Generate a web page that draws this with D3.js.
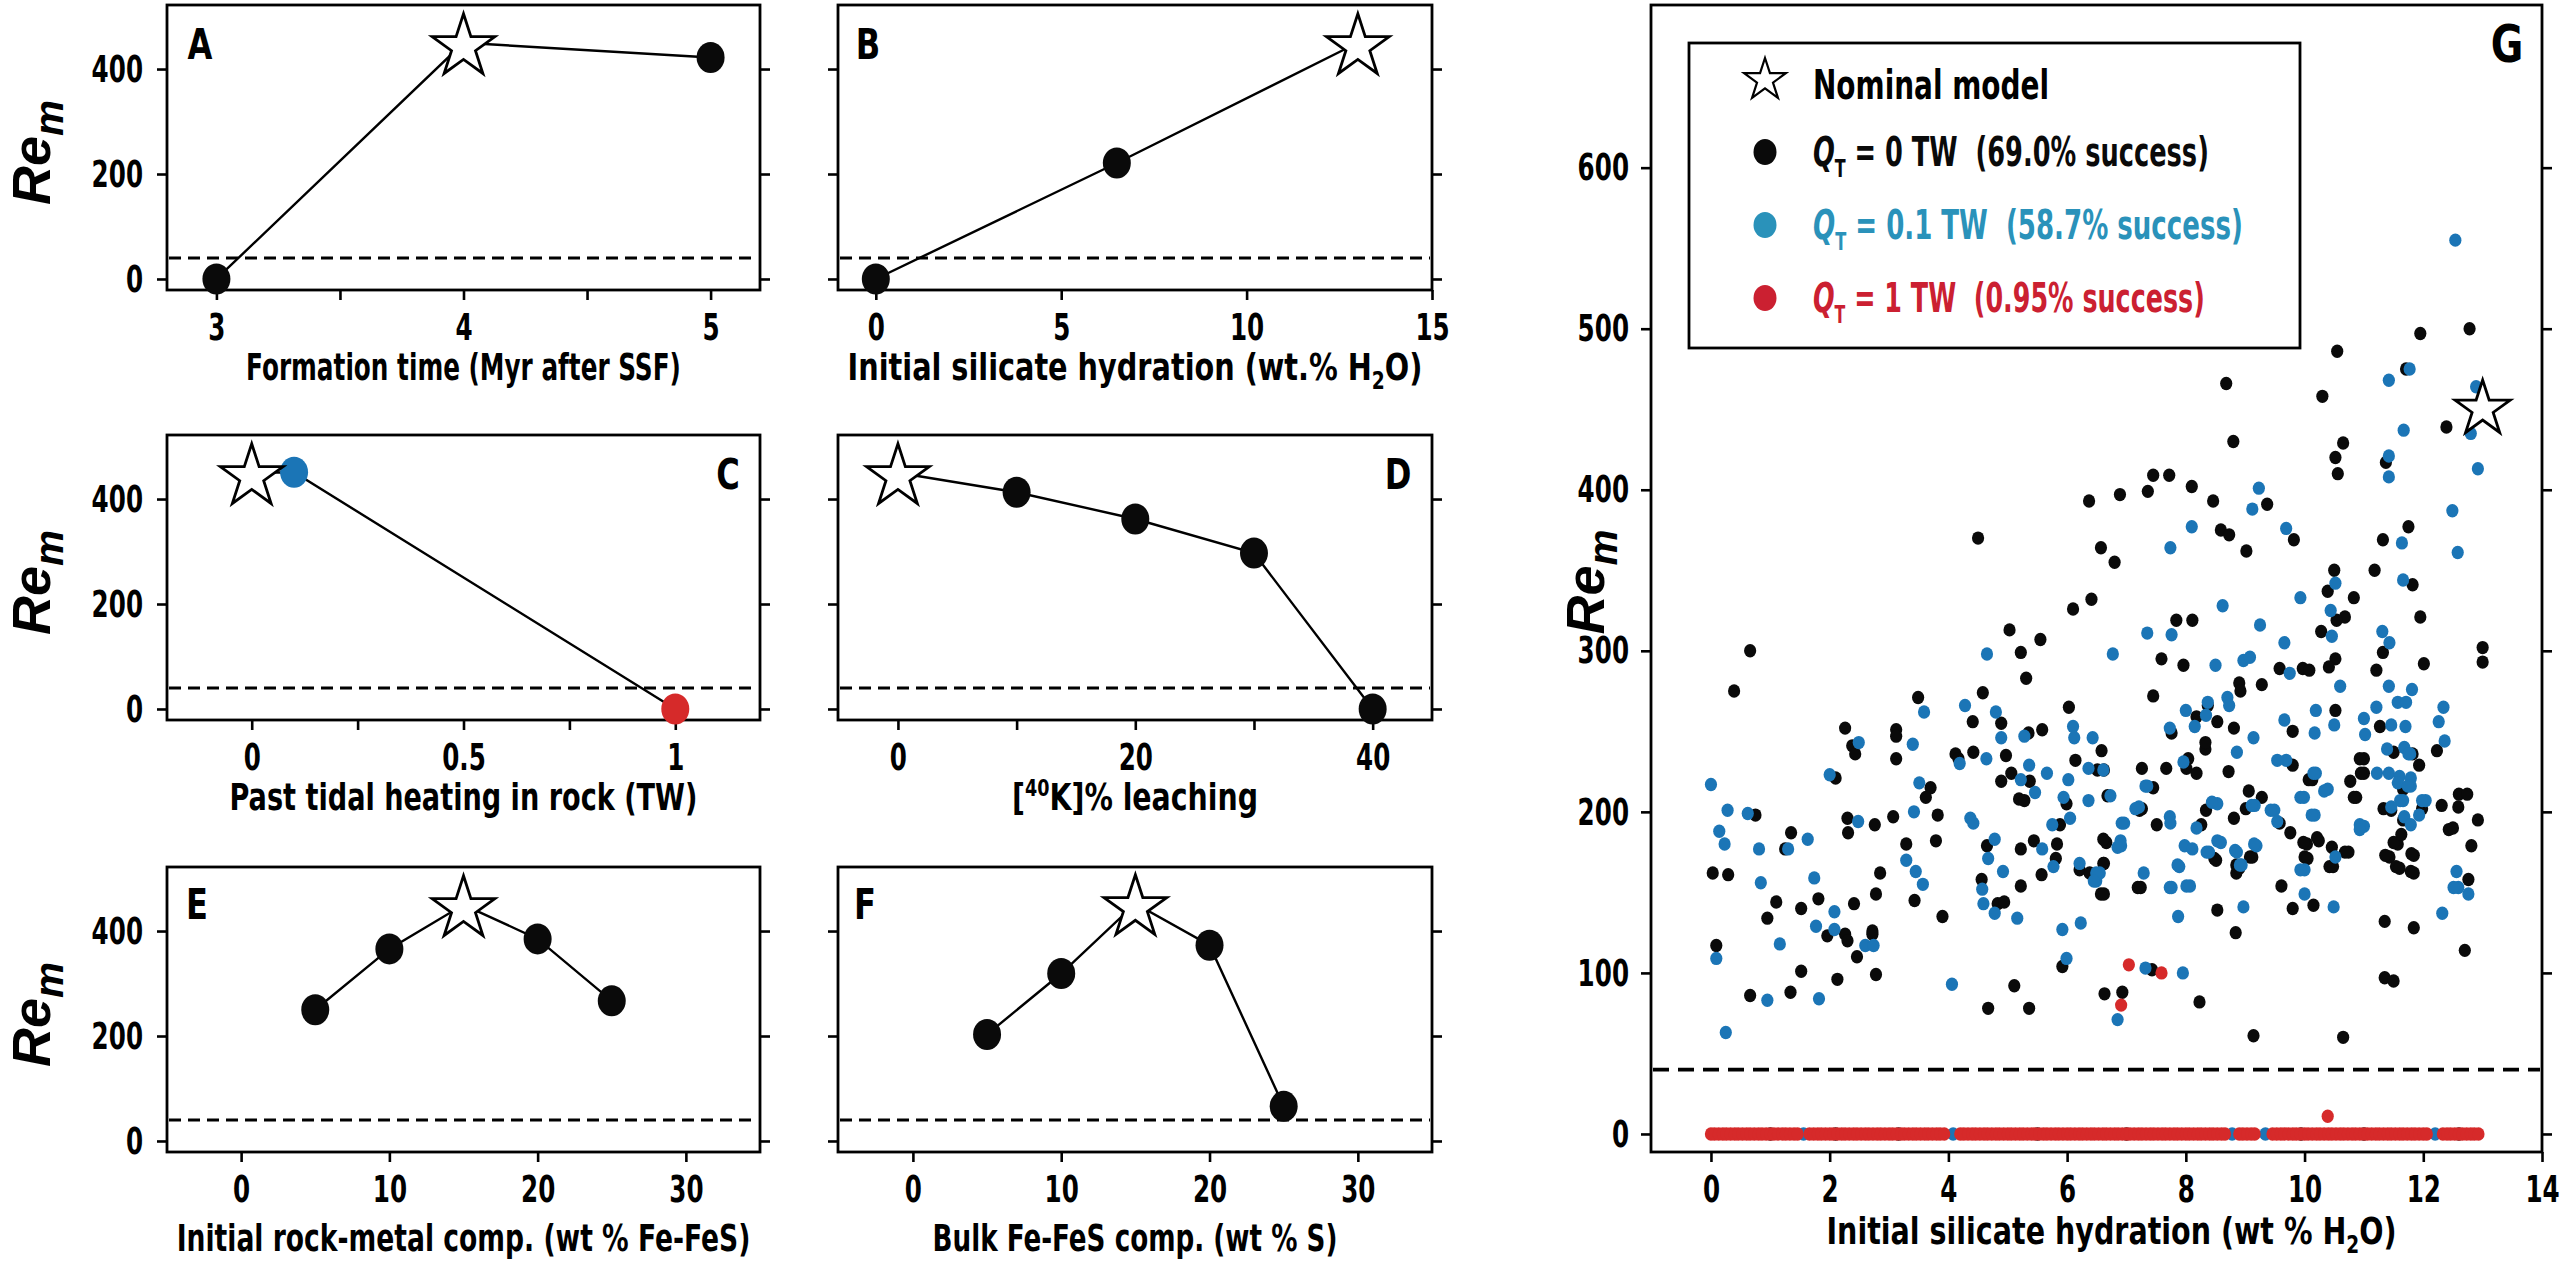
<!DOCTYPE html>
<html>
<head>
<meta charset="utf-8">
<script src="https://cdn.jsdelivr.net/npm/d3@7"></script>
<style>
  body { margin: 0; background: #fff; }
  svg text { font-family: "DejaVu Sans Condensed", "DejaVu Sans", sans-serif; font-weight: bold; fill: #000; white-space: pre; }
</style>
</head>
<body>
<svg id="fig" width="2560" height="1266"></svg>
<script>
// ---------------- data ----------------
const reThreshold = 40
const reTicks = [0, 200, 400]

// A
const formTime = [3, 4, 5]
const formTimeRe = [0, 450, 422]
const formTimeMark = ["k", "star", "k"]
const formTimeTicks = [3, 3.5, 4, 4.5, 5]
const formTimeLabels = [3, 4, 5]
// B
const hydration = [0, 6.5, 13]
const hydrationRe = [0, 221, 450]
const hydrationMark = ["k", "k", "star"]
const hydrationTicks = [0, 5, 10, 15]
// C
const tidal = [0, 0.1, 1]
const tidalRe = [450, 451, 0]
const tidalMark = ["star", "b", "r"]
const tidalTicks = [0, 0.25, 0.5, 0.75, 1]
const tidalLabels = [0, 0.5, 1]
// D
const leaching = [0, 10, 20, 30, 40]
const leachingRe = [450, 413, 362, 297, 0]
const leachingMark = ["star", "k", "k", "k", "k"]
const leachingTicks = [0, 10, 20, 30, 40]
const leachingLabels = [0, 20, 40]
// E
const rockMetal = [5, 10, 15, 20, 25]
const rockMetalRe = [250, 366, 450, 385, 267]
const rockMetalMark = ["k", "k", "star", "k", "k"]
// F
const sulfur = [5, 10, 15, 20, 25]
const sulfurRe = [203, 319, 452, 373, 66]
const sulfurMark = ["k", "k", "star", "k", "k"]
const compTicks = [0, 10, 20, 30]

// G : Monte Carlo runs, [hydration wt%, Re_m]
const gTicksX = [0, 2, 4, 6, 8, 10, 12, 14]
const gTicksY = [0, 100, 200, 300, 400, 500, 600]
const nominal = [13.0, 452]

const qt0Runs = [
  [12.78,500],[11.95,497],[10.55,486],[8.68,466],[10.30,458],[11.71,475],
  [12.39,439],[8.80,430],[10.65,429],[10.52,420],[11.37,417],[10.56,410],
  [7.45,409],[7.72,409],[7.36,399],[8.10,402],[6.89,397],[6.37,393],[8.46,393],[9.37,391],
  [11.75,377],[8.59,375],[8.73,372],[9.82,369],[11.32,369],[4.50,370],[6.57,364],[9.02,362],[6.80,355],
  [10.50,350],[11.18,350],[11.82,341],[10.39,337],[10.83,333],[6.41,332],[6.10,326],
  [10.68,321],[10.54,319],[11.95,321],[7.84,319],[8.11,319],[5.03,313],[5.55,307],[10.28,312],
  [0.66,300],[5.22,299],[7.59,295],[7.96,291],[10.52,295],[10.41,290],[11.32,299],[13.0,302],[13.0,293],[12.01,292],
  [9.58,289],[9.97,289],[10.08,288],[11.21,288],
  [0.39,275],[5.31,283],[8.90,280],[8.92,275],[9.28,279],
  [4.58,274],[3.49,271],[7.45,272],[8.37,266],[6.03,265],[10.52,263],[8.18,259],
  [2.26,252],[3.12,251],[3.12,247],[4.41,256],[4.89,255],[5.58,251],[8.53,256],[8.81,252],[9.80,250],[11.27,253],[7.76,249],[5.35,249],
  [2.38,241],[2.43,236],[8.33,239],[8.33,243],[12.23,238],[11.82,236],[11.50,237],
  [6.58,238],[4.42,237],[4.12,236],[4.97,235],[3.12,233],[4.17,233],[8.04,233],[11.0,233],[9.80,229],[11.93,229],[10.93,233],
  [6.14,232],[7.26,227],[7.67,227],[8.01,227],[8.18,224],[8.72,225],[6.62,226],[6.51,226],
  [2.10,221],[4.89,219],[5.06,224],[5.37,219],[10.13,220],[10.77,219],[11.0,224],[10.95,224],[10.07,220],
  [3.70,215],[3.62,209],[7.45,215],[5.19,208],[5.28,207],[9.06,213],[9.28,209],[10.87,209],[11.66,214],[12.60,211],[12.74,211],[6.68,210],[10.83,209],
  [0.75,198],[3.82,198],[3.07,197],[8.34,201],[7.26,202],[5.99,205],[8.81,196],[9.01,202],[11.46,201],[12.31,204],[12.59,203],[12.92,195],[12.43,189],[11.98,202],[11.33,202],[7.22,201],
  [2.30,196],[2.76,192],[7.51,192],[5.88,192],[8.26,192],[9.58,193],[11.66,195],[12.50,190],
  [2.31,187],[1.35,187],
  [1.25,177],[3.29,180],[3.79,182],[4.65,179],[5.22,177],[5.44,182],[5.83,180],[6.66,181],[10.04,180],[10.24,182],[10.46,178],[10.74,175],[11.57,180],[11.84,173],[12.81,179],[11.43,172],
  [11.50,181],[11.63,186],[11.36,173],[11.54,166],[11.80,174],[11.79,163],[10.68,175],[10.42,166],[10.21,184],[9.98,181],[9.76,187],[10.00,172],[9.08,172],[8.85,167],[8.85,162],[8.48,171],[6.61,183],[6.61,168],[6.57,149],[7.19,153],
  [0.03,162],[0.29,161],[8.51,170],[8.90,165],[9.12,172],[6.21,164],[6.38,162],[6.62,168],[5.81,171],[2.85,162],[5.57,161],[4.56,158],[10.05,171],[10.48,166],[11.60,165],[11.84,162],[12.76,158],
  [6.62,149],[7.24,153],[9.61,154],
  [1.10,144],[1.81,146],[1.52,140],[2.41,143],[2.78,149],[3.43,145],[9.80,140],[10.15,142],[8.53,139],[3.90,135],[0.95,134],[4.83,143],[4.94,144],[5.22,154],
  [1.96,123],[2.26,124],[2.30,120],[2.72,126],[2.72,124],[11.35,132],[8.84,125],[11.84,128],[0.09,117],[2.46,110],[12.70,114],
  [7.43,102],[5.92,104],[1.52,101],[2.78,99],[2.13,96],[5.11,92],[11.35,97],[11.50,95],
  [0.66,86],[1.34,88],[6.63,87],[6.93,88],[8.23,82],[4.67,78],[5.36,78],
  [9.14,61],[10.65,60],
  [1.0,0],[2.1,0],[3.16,0],[5.5,0],[7.0,0],[9.94,0],[11.0,0],[12.6,0]
]

const qt01Runs = [
  [12.54,555],[11.42,468],[11.77,475],[12.89,464],[11.67,437],[12.80,435],[11.42,421],[11.42,408],[12.92,413],[9.23,401],[9.12,388],[12.49,387],[9.69,376],[8.10,377],[11.64,367],[7.74,364],[12.58,361],
  [10.52,342],[11.66,344],[9.93,333],[8.62,328],[10.44,325],[9.25,316],[7.35,311],[7.76,310],[10.46,309],[11.31,312],[11.43,305],[9.66,305],
  [4.65,298],[6.77,298],[8.50,291],[8.97,294],[9.08,296],[9.75,286],
  [10.60,278],[11.42,278],[11.81,276],
  [8.70,271],[8.37,268],[8.73,266],[11.57,268],[11.71,268],[11.21,265],[4.28,266],
  [3.59,262],[8.00,263],[10.19,263],[12.34,265],[8.34,260],[4.80,262],
  [9.66,257],[10.17,249],[10.50,254],[11.46,254],[11.70,253],[12.26,256],[11.0,258],[11.02,248],[7.73,252],[8.15,253],[6.10,253],[6.12,246],[5.28,247],[4.89,246],[6.43,246],[3.40,242],[2.49,243],[9.14,246],[8.86,237],[11.68,240],[12.36,244],[11.78,236],[11.39,239],[11.75,236],
  [4.64,233],[4.19,230],[7.96,231],[9.69,232],[9.54,232],[5.36,229],[6.36,227],[6.61,226],
  [2.0,223],[5.22,220],[5.66,224],[6.02,220],[10.19,224],[11.22,224],[11.42,224],[11.60,222],[11.79,221],[11.57,218],[10.15,224],
  [0.0,217],[3.51,218],[7.35,216],[5.46,212],[6.73,210],[10.39,214],[9.99,209],[9.16,204],[5.94,209],[6.36,207],[11.79,216],[11.66,207],[12.04,207],[7.32,216],[10.33,213],[9.93,209],[11.74,216],[11.61,207],[11.98,207],
  [0.28,201],[0.62,199],[3.42,200],[8.53,205],[8.44,206],[7.21,203],[6.05,196],[9.49,201],[10.17,198],[11.68,197],[11.93,198],[9.11,204],[9.43,201],[10.12,198],[7.15,202],[11.46,203],
  [2.48,194],[4.37,196],[4.42,193],[7.73,197],[7.74,193],[6.96,193],[5.75,192],[8.18,190],[11.0,191],[11.79,192],[9.54,194],[10.93,192],[10.93,189],[6.92,193],[0.14,188],
  [0.23,180],[0.81,177],[1.30,177],[1.63,183],[4.78,183],[5.58,177],[6.91,179],[7.98,179],[8.11,177],[8.39,175],[8.59,181],[8.86,175],[9.19,179],[10.52,172],[6.90,182],[6.85,178],[9.15,180],[8.83,176],[8.53,182],[8.35,175],
  [8.94,167],[6.21,168],[6.55,162],[5.77,166],[3.29,170],[3.45,163],[3.57,155],[4.92,163],[4.67,171],[6.49,157],[7.89,166],[10.00,164],[12.56,163],[12.59,153],[12.76,149],[7.86,167],[8.91,167],[7.29,162],[6.49,162],[6.45,157],[12.51,153],[9.93,164],
  [0.84,156],[1.74,159],[4.57,152],[4.59,143],[7.76,153],[8.07,154],[10.00,149],[8.01,154],[7.73,153],
  [2.08,138],[10.49,141],[8.97,141],[4.78,137],[5.16,134],[7.87,135],[12.32,137],
  [1.77,129],[2.08,127],[2.60,117],[2.74,117],[5.92,127],[6.23,131],[1.16,118],
  [0.09,109],[5.99,109],[7.32,103],[7.95,100],[4.06,93],
  [0.95,83],[1.82,84],[6.85,71],[0.25,63],
  [1.56,0],[4.08,0],[8.78,0],[9.34,0],[12.2,0]
]

// QT = 1 TW: the few successes, then the failed runs sitting at Re_m = 0
const qt1Successes = [[7.04,105],[7.59,100],[6.91,80],[10.39,11]]
const qt1FailedX = [
  0,0.06,0.13,0.2,0.26,0.33,0.4,0.46,0.53,0.6,0.66,0.73,0.8,0.86,0.93,1.0,1.06,1.13,1.2,1.26,1.33,1.4,1.46,
  1.66,1.73,1.8,1.86,1.93,2.0,2.06,2.13,2.2,2.26,2.33,2.4,2.46,2.53,2.6,2.66,2.73,2.8,2.86,2.93,3.0,3.06,
  3.13,3.2,3.26,3.33,3.4,3.46,3.53,3.6,3.66,3.73,3.8,3.86,3.93,
  4.2,4.26,4.33,4.4,4.46,4.53,4.6,4.66,4.73,4.8,4.86,4.93,5.0,5.06,5.13,5.2,5.26,5.33,5.4,5.46,5.53,5.6,
  5.66,5.73,5.8,5.86,5.93,6.0,6.06,6.13,6.2,6.26,6.33,6.4,6.46,6.53,6.6,6.66,6.73,6.8,6.86,6.93,7.0,7.06,
  7.13,7.2,7.26,7.33,7.4,7.46,7.53,7.6,7.66,7.73,7.8,7.86,7.93,8.0,8.06,8.13,8.2,8.26,8.33,8.4,8.46,8.53,
  8.6,8.66,8.9,8.96,9.03,9.1,9.16,
  9.46,9.53,9.6,9.66,9.73,9.8,9.86,9.93,10.0,10.06,10.13,10.2,10.26,10.33,10.4,10.46,10.53,10.6,10.66,
  10.73,10.8,10.86,10.93,11.0,11.06,11.13,11.2,11.26,11.33,11.4,11.46,11.53,11.6,11.66,11.73,11.8,11.86,
  11.93,12.0,12.06,12.33,12.4,12.46,12.53,12.6,12.66,12.73,12.8,12.86,12.93
]
const qt1Runs = qt1Successes.concat(qt1FailedX.map(v => [v, 0]))

const legendLabels = [" = 0 TW  (69.0% success)", " = 0.1 TW  (58.7% success)", " = 1 TW  (0.95% success)"]

// ---------------- drawing ----------------
const svg = d3.select("#fig")
const FONT = '"DejaVu Sans Condensed", "DejaVu Sans", sans-serif'
const colK = "#0a0a0a", colB = "#1b75b6", colR = "#d62a2a"
const legB = "#2a92ba", legR = "#cb2031"
const markCol = { k: colK, b: colB, r: colR }

// horizontally squeeze texts around their anchor, to look like a bold condensed face
function condense(sel, sx) {
  sel.each(function () {
    const t = d3.select(this)
    const x = +t.attr("x") || 0
    t.attr("x", x / sx).attr("transform", `scale(${sx},1)`)
  })
}
// squeeze a text so that it spans the given width
function fitWidth(sel, w) {
  condense(sel, w / sel.node().getBBox().width)
}

function styleAxis(sel) {
  sel.select(".domain").remove()
  sel.attr("font-family", FONT).attr("font-size", 38).attr("font-weight", "bold")
  sel.selectAll(".tick line").attr("stroke", "#000").attr("stroke-width", 2.6)
  sel.selectAll(".tick text").attr("fill", "#000").call(condense, 0.72)
}

function rich(textSel, parts) {
  parts.forEach(pt => {
    const t = textSel.append("tspan").text(pt.t)
    if (pt.small) t.attr("font-size", pt.small)
    if (pt.dy) t.attr("dy", pt.dy)
    if (pt.it) t.attr("font-style", "italic")
    if (pt.fill) t.attr("fill", pt.fill)
  })
}

function starPath(r) {
  return d3.symbol().type(d3.symbolStar).size(r * r / 0.8908130915)()
}

function reLabel(parent, x, y) {
  const yl = parent.append("text")
    .attr("transform", `translate(${x},${y}) rotate(-90)`)
    .attr("text-anchor", "middle").attr("font-size", 54).attr("font-style", "italic")
    .style("font-family", '"Liberation Sans", Arial, sans-serif')
  rich(yl, [{ t: "Re" }, { t: "m", small: "75%", dy: 13 }])
}

function drawPanel(p) {
  const x = d3.scaleLinear().domain(p.xDomain).range([p.left, p.right])
  const y = d3.scaleLinear().domain([-21, 522]).range([p.bottom, p.top])
  const g = svg.append("g")

  g.append("g").attr("transform", `translate(0,${p.bottom})`)
    .call(d3.axisBottom(x).tickValues(p.xTicks).tickSize(10).tickPadding(13)
      .tickFormat(d => p.xLabels.includes(d) ? String(d) : ""))
    .call(styleAxis)

  g.append("g").attr("transform", `translate(${p.left},0)`)
    .call(d3.axisLeft(y).tickValues(reTicks).tickSize(10).tickPadding(14)
      .tickFormat(d => p.yLabels ? String(d) : ""))
    .call(styleAxis)

  g.append("g").attr("transform", `translate(${p.right},0)`)
    .call(d3.axisRight(y).tickValues(reTicks).tickSize(10).tickFormat(""))
    .call(styleAxis)

  g.append("rect").attr("x", p.left).attr("y", p.top)
    .attr("width", p.right - p.left).attr("height", p.bottom - p.top)
    .attr("fill", "none").attr("stroke", "#000").attr("stroke-width", 2.8)

  g.append("line").attr("x1", p.left + 2).attr("x2", p.right - 2)
    .attr("y1", y(reThreshold)).attr("y2", y(reThreshold))
    .attr("stroke", "#000").attr("stroke-width", 2.8).attr("stroke-dasharray", "12,7")

  const pts = p.xs.map((v, i) => ({ x: v, y: p.ys[i], m: p.marks[i] }))
  g.append("path").datum(pts)
    .attr("d", d3.line().x(d => x(d.x)).y(d => y(d.y)))
    .attr("fill", "none").attr("stroke", "#000").attr("stroke-width", 2.4)

  g.selectAll(".dot").data(pts.filter(d => d.m !== "star")).enter()
    .append("ellipse").attr("cx", d => x(d.x)).attr("cy", d => y(d.y))
    .attr("rx", 14).attr("ry", 15.5).attr("fill", d => markCol[d.m])

  g.selectAll(".star").data(pts.filter(d => d.m === "star")).enter()
    .append("path").attr("d", starPath(33))
    .attr("transform", d => `translate(${x(d.x)},${y(d.y) + 4})`)
    .attr("fill", "#fff").attr("stroke", "#000").attr("stroke-width", 2.8)

  const tt = g.append("text").attr("x", (p.left + p.right) / 2).attr("y", p.bottom + p.titleDy)
    .attr("text-anchor", "middle").attr("font-size", 38)
  rich(tt, p.title)
  fitWidth(tt, p.titleW)

  const lt = g.append("text").attr("x", p.letter[0]).attr("y", p.letter[1])
    .attr("text-anchor", "middle").attr("font-size", 42).text(p.name)
  condense(lt, 0.85)

  if (p.yLabels) reLabel(g, 50, (p.top + p.bottom) / 2 + 5)
}

const colA = { left: 167, right: 760 }, colB2 = { left: 838, right: 1432 }
const row1 = { top: 5, bottom: 290 }, row2 = { top: 435, bottom: 720 }, row3 = { top: 867, bottom: 1152 }

drawPanel({ ...colA, ...row1, name: "A", letter: [200, 59], yLabels: true, titleDy: 90, titleW: 435,
  xDomain: [2.8, 5.2], xTicks: formTimeTicks, xLabels: formTimeLabels,
  xs: formTime, ys: formTimeRe, marks: formTimeMark,
  title: [{ t: "Formation time (Myr after SSF)" }] })

drawPanel({ ...colB2, ...row1, name: "B", letter: [868, 59], yLabels: false, titleDy: 90, titleW: 575,
  xDomain: [-1.02, 15], xTicks: hydrationTicks, xLabels: hydrationTicks,
  xs: hydration, ys: hydrationRe, marks: hydrationMark,
  title: [{ t: "Initial silicate hydration (wt.% H" }, { t: "2", small: "65%", dy: 9 }, { t: "O)", dy: -9 }] })

drawPanel({ ...colA, ...row2, name: "C", letter: [728, 489], yLabels: true, titleDy: 90, titleW: 468,
  xDomain: [-0.2, 1.2], xTicks: tidalTicks, xLabels: tidalLabels,
  xs: tidal, ys: tidalRe, marks: tidalMark,
  title: [{ t: "Past tidal heating in rock (TW)" }] })

drawPanel({ ...colB2, ...row2, name: "D", letter: [1398, 489], yLabels: false, titleDy: 90, titleW: 246,
  xDomain: [-5.05, 45], xTicks: leachingTicks, xLabels: leachingLabels,
  xs: leaching, ys: leachingRe, marks: leachingMark,
  title: [{ t: "[" }, { t: "40", small: "62%", dy: -14 }, { t: "K]% leaching", dy: 14 }] })

drawPanel({ ...colA, ...row3, name: "E", letter: [197, 919], yLabels: true, titleDy: 99, titleW: 574,
  xDomain: [-5, 35], xTicks: compTicks, xLabels: compTicks,
  xs: rockMetal, ys: rockMetalRe, marks: rockMetalMark,
  title: [{ t: "Initial rock-metal comp. (wt % Fe-FeS)" }] })

drawPanel({ ...colB2, ...row3, name: "F", letter: [865, 919], yLabels: false, titleDy: 99, titleW: 405,
  xDomain: [-5.05, 35], xTicks: compTicks, xLabels: compTicks,
  xs: sulfur, ys: sulfurRe, marks: sulfurMark,
  title: [{ t: "Bulk Fe-FeS comp. (wt % S)" }] })

// ---------- panel G ----------
const gBox = { left: 1651, right: 2542, top: 5, bottom: 1152 }
const gx = d3.scaleLinear().domain([-1.01, 14]).range([gBox.left, gBox.right])
const gy = d3.scaleLinear().domain([-11.2, 701]).range([gBox.bottom, gBox.top])
const G = svg.append("g")

G.append("g").attr("transform", `translate(0,${gBox.bottom})`)
  .call(d3.axisBottom(gx).tickValues(gTicksX).tickSize(10).tickPadding(13).tickFormat(String))
  .call(styleAxis)
G.append("g").attr("transform", `translate(${gBox.left},0)`)
  .call(d3.axisLeft(gy).tickValues(gTicksY).tickSize(10).tickPadding(12).tickFormat(String))
  .call(styleAxis)
G.append("g").attr("transform", `translate(${gBox.right},0)`)
  .call(d3.axisRight(gy).tickValues(gTicksY).tickSize(10).tickFormat(""))
  .call(styleAxis)

G.append("line").attr("x1", gBox.left + 2).attr("x2", gBox.right - 2)
  .attr("y1", gy(reThreshold)).attr("y2", gy(reThreshold))
  .attr("stroke", "#000").attr("stroke-width", 3.8).attr("stroke-dasharray", "16,9")

function scatter(data, col) {
  G.append("g").selectAll("ellipse").data(data).enter().append("ellipse")
    .attr("cx", d => gx(d[0])).attr("cy", d => gy(d[1]))
    .attr("rx", 6.1).attr("ry", 6.7).attr("fill", col)
}
scatter(qt0Runs, colK)
scatter(qt01Runs, colB)
scatter(qt1Runs, colR)

G.append("path").attr("d", starPath(29))
  .attr("transform", `translate(${gx(nominal[0])},${gy(nominal[1]) + 3})`)
  .attr("fill", "#fff").attr("stroke", "#000").attr("stroke-width", 2.8)

G.append("rect").attr("x", gBox.left).attr("y", gBox.top)
  .attr("width", gBox.right - gBox.left).attr("height", gBox.bottom - gBox.top)
  .attr("fill", "none").attr("stroke", "#000").attr("stroke-width", 2.8)

const gl = G.append("text").attr("x", 2507).attr("y", 62).attr("text-anchor", "middle")
  .attr("font-size", 52).text("G")
condense(gl, 0.85)

reLabel(G, 1604, 582)

const gt = G.append("text").attr("x", (gBox.left + gBox.right) / 2 + 15).attr("y", gBox.bottom + 92)
  .attr("text-anchor", "middle").attr("font-size", 38)
rich(gt, [{ t: "Initial silicate hydration (wt % H" }, { t: "2", small: "65%", dy: 9 }, { t: "O)", dy: -9 }])
fitWidth(gt, 570)

// legend
const L = G.append("g")
L.append("rect").attr("x", 1689).attr("y", 43).attr("width", 611).attr("height", 305)
  .attr("fill", "#fff").attr("stroke", "#000").attr("stroke-width", 2.8)
L.append("path").attr("d", starPath(22)).attr("transform", "translate(1765,80)")
  .attr("fill", "#fff").attr("stroke", "#000").attr("stroke-width", 2.2)
const nm = L.append("text").attr("x", 1813).attr("y", 99).attr("font-size", 40).text("Nominal model")
fitWidth(nm, 236)

const legCols = [colK, legB, legR]
const legWidths = [396, 430, 392]
legendLabels.forEach((lab, i) => {
  const cy = 152 + i * 73
  L.append("ellipse").attr("cx", 1765).attr("cy", cy).attr("rx", 11.5).attr("ry", 13).attr("fill", legCols[i])
  const t = L.append("text").attr("x", 1813).attr("y", cy + 14).attr("font-size", 40)
    .style("fill", legCols[i])
  rich(t, [{ t: "Q", it: true, fill: legCols[i] }, { t: "T", small: "62%", dy: 11, fill: legCols[i] },
           { t: lab, dy: -11, fill: legCols[i] }])
  fitWidth(t, legWidths[i])
})
</script>
</body>
</html>
